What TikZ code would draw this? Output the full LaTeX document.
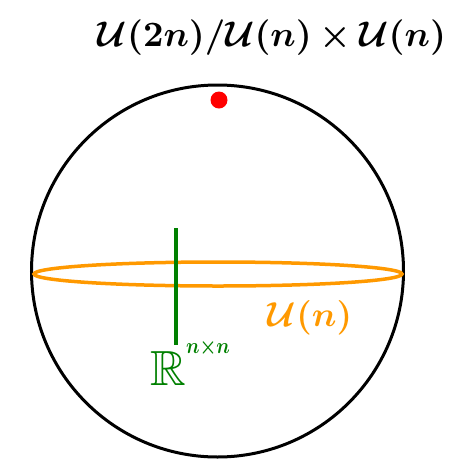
\documentclass[tikz,border=0pt]{standalone}
\usepackage{amssymb}
\usepackage{graphicx}
\usepackage{bm}
\usetikzlibrary{shapes.geometric}
\definecolor{uorange}{RGB}{255,153,0}
\definecolor{rgreen}{RGB}{0,128,0}
\begin{document}
\begin{tikzpicture}[x=1pt,y=-1pt,
  lbl/.style={inner sep=0pt, anchor=center}]
\useasboundingbox (0,0) rectangle (457,467);
\node[draw=black, line width=3pt, circle, minimum size=372pt, inner sep=0pt] (sphere) at (217.5,271) {};
\node[draw=uorange, line width=3.5pt, ellipse, minimum width=368pt, minimum height=24pt, inner sep=0pt] (orbit) at (218,274) {};
\coordinate (gtop) at (176,228);
\coordinate (gbot) at (176,345);
\draw[rgreen, line width=3.5pt] (gtop) -- (gbot);
\node[fill=red, circle, minimum size=17pt, inner sep=0pt] (dot) at (219,100) {};
\node[lbl] (title) at (272,38) {\resizebox{348pt}{!}{$\bm{\mathcal{U}(2n)/\mathcal{U}(n)\times\mathcal{U}(n)}$}};
\node[lbl, text=uorange] (un) at (310,318) {\resizebox{84pt}{!}{$\bm{\mathcal{U}(n)}$}};
\node[lbl, text=rgreen, anchor=south west] (rn) at (150,386) {\resizebox{!}{34pt}{$\bm{\mathbb{R}}$}};
\node[lbl, text=rgreen] (rsup) at (208,348) {\resizebox{44pt}{14pt}{$\bm{n{\times}n}$}};
\end{tikzpicture}
\end{document}
